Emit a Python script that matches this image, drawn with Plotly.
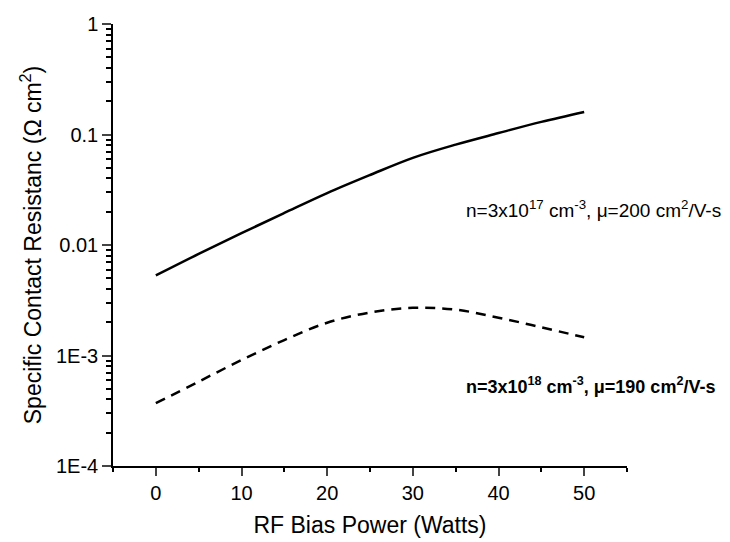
import math
import plotly.graph_objects as go

# RF bias power (W) and specific contact resistance (Ohm cm^2)
power = [0, 5, 10, 15, 20, 25, 30, 35, 40, 45, 50]
rc_1e17 = [0.0053, 0.0083, 0.0128, 0.0195, 0.0295, 0.043, 0.0615, 0.081, 0.103, 0.13, 0.16]
rc_1e18 = [0.00037, 0.00058, 0.00091, 0.00138, 0.00198, 0.00245, 0.0027, 0.0026, 0.0022, 0.0018, 0.00146]

y_ticks = [1e-4, 1e-3, 1e-2, 1e-1, 1]
y_labels = ["1E-4", "1E-3", "0.01", "0.1", "1"]
y_minor = [m * 10.0 ** k for k in range(-4, 0) for m in range(2, 10)]
x_ticks = [0, 10, 20, 30, 40, 50]
x_minor = [-5, 5, 15, 25, 35, 45, 55]

label_17 = "n=3x10<sup>17</sup> cm<sup>-3</sup>, \u03bc=200 cm<sup>2</sup>/V-s"
label_18 = "<b>n=3x10<sup>18</sup> cm<sup>-3</sup>, \u03bc=190 cm<sup>2</sup>/V-s</b>"

fig = go.Figure()
fig.add_trace(go.Scatter(x=power, y=rc_1e17, mode="lines", line=dict(color="black", width=2.5, shape="spline"),
                         showlegend=False))
fig.add_trace(go.Scatter(x=power, y=rc_1e18, mode="lines",
                         line=dict(color="black", width=2.5, dash="10px,7px", shape="spline"), showlegend=False))

# log axis: annotation y is given as log10
fig.add_annotation(x=36.0, y=math.log10(0.021), text=label_17, showarrow=False,
                   xanchor="left", yanchor="middle", font=dict(size=19, color="black"))
fig.add_annotation(x=36.0, y=math.log10(0.00054), text=label_18, showarrow=False,
                   xanchor="left", yanchor="middle", font=dict(size=18, color="black"))

fig.update_layout(
    width=730, height=542,
    margin=dict(l=105, r=111, t=16, b=84),
    paper_bgcolor="white", plot_bgcolor="white",
    font=dict(family="Liberation Sans, Arial, sans-serif", color="black"),
    xaxis=dict(range=[-5, 55], tickmode="array", tickvals=x_ticks, ticks="outside", ticklen=8, tickwidth=1.5,
               showline=True, linecolor="black", linewidth=1.5, showgrid=False, zeroline=False, automargin=False,
               tickfont=dict(size=20), title=dict(text="RF Bias Power (Watts)", font=dict(size=23), standoff=14),
               minor=dict(tickmode="array", tickvals=x_minor, ticks="outside", ticklen=4, tickcolor="black")),
    yaxis=dict(type="log", range=[-4, 0], tickmode="array", tickvals=y_ticks, ticktext=y_labels,
               ticks="outside", ticklen=9, tickwidth=1.5, showline=True, linecolor="black", linewidth=1.5,
               showgrid=False, zeroline=False, automargin=False, tickfont=dict(size=20),
               title=dict(text="Specific Contact Resistanc (\u03a9 cm<sup>2</sup>)", font=dict(size=23), standoff=8),
               minor=dict(tickmode="array", tickvals=y_minor, ticks="outside", ticklen=5, tickcolor="black")),
)

fig.write_html("out.html")
